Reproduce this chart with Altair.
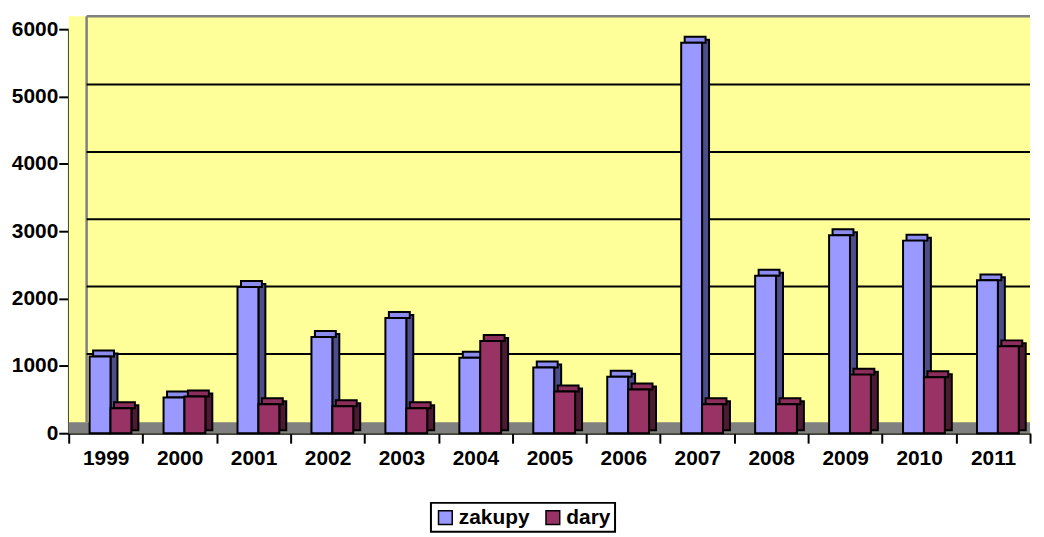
import altair as alt
import pandas as pd

years = ["1999", "2000", "2001", "2002", "2003", "2004", "2005",
         "2006", "2007", "2008", "2009", "2010", "2011"]
zakupy = [1140, 530, 2170, 1430, 1710, 1120, 975, 840, 5800, 2340, 2940, 2860, 2270]
dary = [370, 545, 430, 400, 370, 1370, 620, 650, 430, 430, 870, 830, 1290]
series = ["zakupy", "dary"]
front_colors = ["#9999FF", "#993366"]
top_colors = ["#8C8CF0", "#8C2E5C"]
side_colors = ["#4D4D8A", "#4D1933"]
grid_values = [1000, 2000, 3000, 4000, 5000]
y_ticks = [0, 1000, 2000, 3000, 4000, 5000, 6000]

rows = []
for i, y in enumerate(years):
    rows.append({"rok": y, "seria": "zakupy", "v": zakupy[i]})
    rows.append({"rok": y, "seria": "dary", "v": dary[i]})
df = pd.DataFrame(rows)
grid_df = pd.DataFrame({"g": grid_values})
zero_df = pd.DataFrame({"z": [0]})

W = 966
H = 406
S = W / len(years)
BW = 21
D = 7
DY = 6
FONT = "Liberation Sans"
FS = 21

xs = alt.X("rok:N", sort=years, title=None,
           scale=alt.Scale(paddingInner=0, paddingOuter=0),
           axis=alt.Axis(labelFont=FONT, labelFontSize=FS, labelFontWeight="bold",
                         labelColor="black", labelAngle=0, labelPadding=4,
                         domainColor="black", domainWidth=2, tickColor="black",
                         tickWidth=2, tickSize=10, tickBand="extent", grid=False))
ys = alt.Y("v:Q", title=None,
           scale=alt.Scale(domain=[0, 6000], nice=False),
           axis=alt.Axis(values=y_ticks, format="d", labelFont=FONT, labelFontSize=FS,
                         labelFontWeight="bold", labelColor="black", labelPadding=1,
                         domainColor="black", domainWidth=2.5, tickColor="black",
                         tickWidth=2, tickSize=10, grid=False))

base = alt.Chart(df)

wall = alt.Chart(zero_df).mark_rect(fill="#FFFF99").encode(
    x=alt.value(0), x2=alt.value(W), y=alt.value(-13), y2=alt.value(H))
back_top = alt.Chart(zero_df).mark_rule(color="#808080", strokeWidth=2.5).encode(
    x=alt.value(18), x2=alt.value(W), y=alt.value(-13))
back_left = alt.Chart(zero_df).mark_rule(color="#808080", strokeWidth=2.5).encode(
    x=alt.value(18), y=alt.value(-13), y2=alt.value(H - 11))
grid = alt.Chart(grid_df).mark_rule(color="black", strokeWidth=2, yOffset=-12).encode(
    y=alt.Y("g:Q", scale=alt.Scale(domain=[0, 6000], nice=False)),
    x=alt.value(18), x2=alt.value(W))
floor = alt.Chart(zero_df).mark_rule(color="#808080", strokeWidth=11, yOffset=-5.5).encode(
    y=alt.Y("z:Q", scale=alt.Scale(domain=[0, 6000], nice=False)),
    x=alt.value(0), x2=alt.value(W))

offsets = {"zakupy": 31.5 - S / 2, "dary": 52.5 - S / 2}

bar_layers = []
for k, s in enumerate(series):
    off = offsets[s]
    sub = base.transform_filter(alt.datum.seria == s)
    side = sub.mark_bar(width=D, xOffset=off + BW / 2 + D / 2, yOffset=-DY / 2,
                        fill=side_colors[k], stroke="black", strokeWidth=2).encode(
        x=xs, y=ys)
    top = sub.mark_tick(size=BW, thickness=DY, xOffset=off + D / 2, yOffset=-DY / 2,
                        color=top_colors[k], stroke="black", strokeWidth=2,
                        opacity=1).encode(x=xs, y=ys)
    front = sub.mark_bar(width=BW, xOffset=off, stroke="black", strokeWidth=2,
                         opacity=1).encode(
        x=xs, y=ys,
        color=alt.Color("seria:N", sort=series,
                        scale=alt.Scale(domain=series, range=front_colors),
                        legend=alt.Legend(title=None, orient="none", direction="horizontal",
                                          legendX=364, legendY=476,
                                          labelFont=FONT, labelFontSize=FS,
                                          labelFontWeight="bold", labelColor="black",
                                          symbolType="square", symbolSize=190,
                                          symbolStrokeColor="black", symbolStrokeWidth=1.5,
                                          labelOffset=3, columnPadding=12,
                                          strokeColor="black", padding=4,
                                          fillColor="white")))
    bar_layers += [side, top, front]

chart = alt.layer(wall, back_top, back_left, grid, floor, *bar_layers).properties(
    width=W, height=H,
    padding={"left": 3, "top": 5, "right": 0, "bottom": 0},
).configure_view(stroke=None).configure_legend(strokeWidth=2)

chart.save("out.html", embed_options={"renderer": "svg", "actions": False})
